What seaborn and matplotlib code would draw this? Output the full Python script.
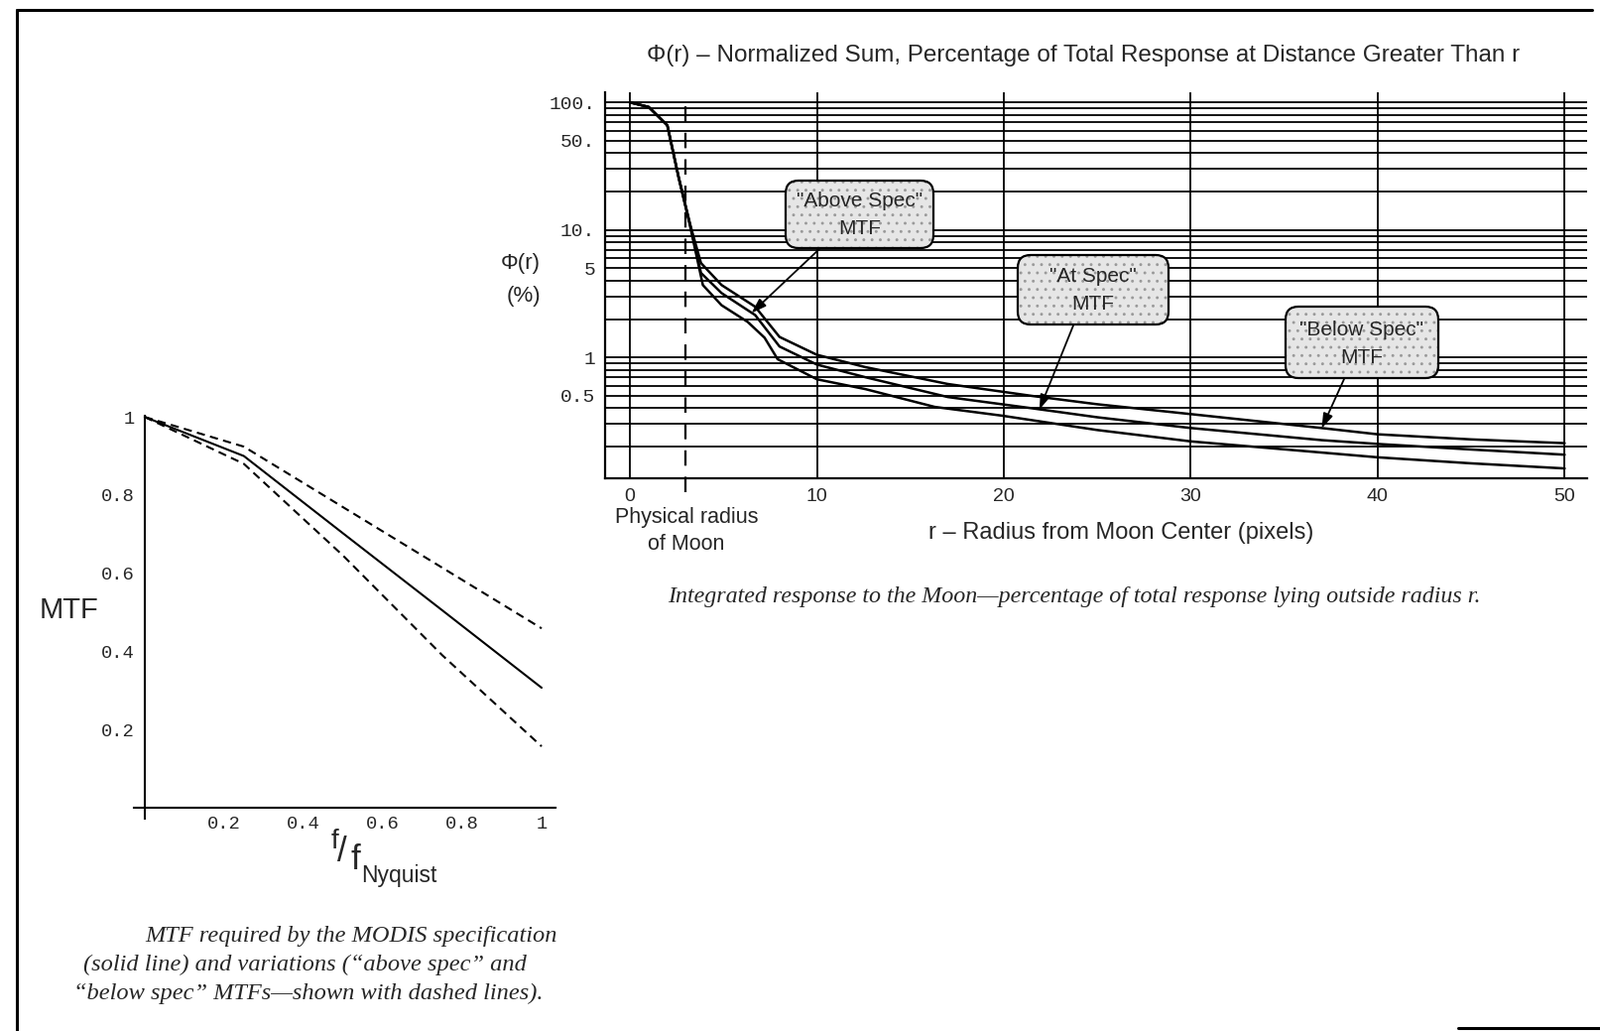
import numpy as np
import pandas as pd
import matplotlib
matplotlib.use("Agg")
import matplotlib.pyplot as plt
import seaborn as sns
from matplotlib.lines import Line2D
from matplotlib.patches import FancyBboxPatch
from matplotlib.transforms import IdentityTransform
from matplotlib.ticker import FixedLocator, LogLocator, NullFormatter

# ---------------- data: MTF chart (left) ----------------
mtf_freq = [0.0, 0.25, 0.5, 0.75, 1.0]
mtf_at_spec = [1.0, 0.90, 0.702, 0.505, 0.307]
mtf_above_spec = [1.0, 0.924, 0.769, 0.614, 0.459]
mtf_below_spec = [1.0, 0.88, 0.645, 0.39, 0.157]
mtf_ticks = [0.2, 0.4, 0.6, 0.8, 1.0]
mtf_ticklabels = ["0.2", "0.4", "0.6", "0.8", "1"]

# ---------------- data: Phi(r) chart (right) ----------------
r_below = [0, 1.0, 2.0, 2.6, 3.2, 3.8, 4.9, 6.7, 8.0, 10, 12.6, 17, 21.5, 25, 30, 37, 40, 45, 50]
phi_below = [100, 92, 66, 26, 11.3, 5.5, 3.7, 2.5, 1.45, 1.05, 0.84, 0.62, 0.50, 0.43, 0.36, 0.28, 0.25, 0.228, 0.213]
r_at = [0, 1.0, 2.0, 2.6, 3.2, 3.8, 4.9, 6.7, 8.0, 10, 12.6, 17, 21.5, 25, 30, 37, 40, 45, 50]
phi_at = [100, 92, 66, 26, 11.3, 4.6, 3.2, 2.15, 1.22, 0.88, 0.70, 0.49, 0.40, 0.34, 0.28, 0.225, 0.21, 0.19, 0.173]
r_above = [0, 1.0, 2.0, 2.6, 3.2, 3.9, 4.9, 6.3, 7.2, 7.9, 10, 12.6, 16.3, 19.9, 25, 30, 40, 45, 50]
phi_above = [100, 92, 66, 26, 11, 3.7, 2.57, 1.9, 1.43, 0.97, 0.675, 0.565, 0.41, 0.35, 0.27, 0.22, 0.165, 0.148, 0.135]
phi_yticks = [0.5, 1, 5, 10, 50, 100]
phi_yticklabels = ["0.5", "1", "5", "10.", "50.", "100."]
phi_xticks = [0, 10, 20, 30, 40, 50]
phi_xticklabels = ["0", "10", "20", "30", "40", "50"]
moon_radius = 2.95
# annotation labels and arrow targets (r, phi)
note_labels = ['"Above Spec"\nMTF', '"At Spec"\nMTF', '"Below Spec"\nMTF']
note_tips = [(6.5, 2.23), (21.9, 0.39), (37.0, 0.278)]

# ---------------- style ----------------
sns.set_style("white")
plt.rcParams["font.family"] = ["Liberation Sans", "DejaVu Sans"]
plt.rcParams["hatch.color"] = "#9a9a9a"
plt.rcParams["hatch.linewidth"] = 0.9

W, H = 1613, 1039
fig = plt.figure(figsize=(W / 100, H / 100), dpi=100)


def fx(X):
    return X / W


def fy(Y):
    return 1 - Y / H


MONO = ["Liberation Mono", "DejaVu Sans Mono"]
SANS = ["Liberation Sans", "DejaVu Sans"]
SERIF = ["Liberation Serif", "DejaVu Serif"]

# ---------------- right chart ----------------
axr = fig.add_axes([fx(610), fy(482), fx(1600) - fx(610), (482 - 93) / H])
phi_df = pd.concat([
    pd.DataFrame({"r": r_below, "phi": phi_below, "variant": "Below Spec"}),
    pd.DataFrame({"r": r_at, "phi": phi_at, "variant": "At Spec"}),
    pd.DataFrame({"r": r_above, "phi": phi_above, "variant": "Above Spec"}),
])
sns.lineplot(data=phi_df, x="r", y="phi", hue="variant",
             palette={"Below Spec": "black", "At Spec": "black", "Above Spec": "black"},
             estimator=None, sort=False, legend=False, lw=1.8, ax=axr, zorder=3)
axr.set_yscale("log")
axr.set_ylim(0.113, 120)
axr.set_xlim(-1.33, 51.2)
axr.yaxis.set_major_locator(FixedLocator(phi_yticks))
axr.set_yticklabels(phi_yticklabels, family=MONO, fontsize=14)
axr.yaxis.set_minor_locator(LogLocator(base=10, subs=np.arange(1, 10), numticks=20))
axr.yaxis.set_minor_formatter(NullFormatter())
axr.set_xticks(phi_xticks)
axr.set_xticklabels(phi_xticklabels, family=SANS, fontsize=14)
axr.tick_params(axis="y", which="both", length=0, pad=7)
axr.tick_params(axis="x", which="both", length=0, pad=7)
axr.grid(True, which="both", axis="y", color="black", lw=1.3)
axr.grid(True, which="major", axis="x", color="black", lw=1.3)
for s in ["top", "right"]:
    axr.spines[s].set_visible(False)
for s in ["left", "bottom"]:
    axr.spines[s].set_color("black")
    axr.spines[s].set_linewidth(1.6)
axr.axvline(moon_radius, ymin=-0.035, ymax=0.975, color="black", lw=1.6,
            dashes=(7, 5), clip_on=False, zorder=2)
axr.set_xlabel("")
axr.set_ylabel("")

# annotation boxes (pixel geometry: x0, y0(top), x1, y1(bottom)) and arrow starts
box_geom = [(792, 182, 941, 250), (1026, 257, 1178, 327), (1296, 309, 1450, 381)]
arrow_starts = [(826, 251), (1082, 328), (1355, 382)]
for label, tip, (x0, y0, x1, y1), (ax0, ay0) in zip(note_labels, note_tips, box_geom, arrow_starts):
    under = FancyBboxPatch((x0, H - y1), x1 - x0, y1 - y0,
                           boxstyle="round,pad=0,rounding_size=13",
                           transform=IdentityTransform(), fc="#e6e6e6", ec="#9a9a9a",
                           lw=0, hatch="..", zorder=4)
    fig.add_artist(under)
    frame = FancyBboxPatch((x0, H - y1), x1 - x0, y1 - y0,
                           boxstyle="round,pad=0,rounding_size=13",
                           transform=IdentityTransform(), fc="none", ec="black",
                           lw=1.6, zorder=5)
    fig.add_artist(frame)
    fig.text(fx((x0 + x1) / 2), fy((y0 + y1) / 2 + 1), label, ha="center", va="center",
             fontsize=15, family=SANS, linespacing=1.6, zorder=6)
    axr.annotate("", xy=tip, xycoords="data", xytext=(ax0, H - ay0),
                 textcoords="figure pixels",
                 arrowprops=dict(arrowstyle="-|>,head_length=0.9,head_width=0.3",
                                 color="black", lw=1.3, shrinkA=0, shrinkB=0),
                 zorder=5)

fig.text(fx(1092), fy(56), "\u03a6(r) \u2013 Normalized Sum, Percentage of Total Response at Distance Greater Than r",
         ha="center", va="center", fontsize=17.5, family=SANS)
fig.text(fx(525), fy(266), "\u03a6(r)", ha="center", va="center", fontsize=16, family=SANS)
fig.text(fx(528), fy(299), "(%)", ha="center", va="center", fontsize=16, family=SANS)
fig.text(fx(692), fy(521), "Physical radius", ha="center", va="center", fontsize=15.5, family=SANS)
fig.text(fx(692), fy(549), "of Moon", ha="center", va="center", fontsize=15.5, family=SANS)
fig.text(fx(1130), fy(537), "r \u2013 Radius from Moon Center (pixels)", ha="center", va="center",
         fontsize=17, family=SANS)
fig.text(fx(1083), fy(601),
         "Integrated response to the Moon\u2014percentage of total response lying outside radius r.",
         ha="center", va="center", fontsize=17.3, family=SERIF, style="italic")

# ---------------- left chart ----------------
axl = fig.add_axes([fx(135), fy(825), (560 - 135) / W, (825 - 419) / H])
mtf_df = pd.concat([
    pd.DataFrame({"f": mtf_freq, "mtf": mtf_above_spec, "variant": "above"}),
    pd.DataFrame({"f": mtf_freq, "mtf": mtf_at_spec, "variant": "at"}),
    pd.DataFrame({"f": mtf_freq, "mtf": mtf_below_spec, "variant": "below"}),
])
sns.lineplot(data=mtf_df, x="f", y="mtf", hue="variant", style="variant",
             palette={"above": "black", "at": "black", "below": "black"},
             dashes={"above": (4, 2.6), "at": "", "below": (4, 2.6)},
             estimator=None, sort=False, legend=False, lw=1.5, ax=axl)
axl.set_xlim(-0.027, 1.035)
axl.set_ylim(-0.028, 1.003)
axl.spines["left"].set_position(("data", 0))
axl.spines["bottom"].set_position(("data", 0))
for s in ["top", "right"]:
    axl.spines[s].set_visible(False)
for s in ["left", "bottom"]:
    axl.spines[s].set_color("black")
    axl.spines[s].set_linewidth(1.5)
axl.set_xticks(mtf_ticks)
axl.set_xticklabels(mtf_ticklabels, family=MONO, fontsize=13.5)
axl.set_yticks(mtf_ticks)
axl.set_yticklabels(mtf_ticklabels, family=MONO, fontsize=13.5)
axl.tick_params(axis="both", which="major", direction="in", length=5, width=1.0, color="black")
axl.tick_params(axis="y", pad=7)
axl.tick_params(axis="x", pad=6)
axl.set_xlabel("")
axl.set_ylabel("")

fig.text(fx(70), fy(615), "MTF", ha="center", va="center", fontsize=21, family=SANS)
fig.text(fx(338), fy(848), "f", ha="center", va="center", fontsize=20, family=SANS)
fig.text(fx(345), fy(858), "/", ha="center", va="center", fontsize=25, family=SANS)
fig.text(fx(358), fy(866), "f", ha="center", va="center", fontsize=25, family=SANS)
fig.text(fx(364), fy(883), "Nyquist", ha="left", va="center", fontsize=16.5, family=SANS)

cap_kw = dict(ha="left", va="center", fontsize=17.6, family=SERIF, style="italic")
fig.text(fx(146), fy(943), "MTF required by the MODIS specification", **cap_kw)
fig.text(fx(84), fy(972), "(solid line) and variations (\u201cabove spec\u201d and", **cap_kw)
fig.text(fx(74), fy(1001), "\u201cbelow spec\u201d MTFs\u2014shown with dashed lines).", **cap_kw)

# ---------------- page borders ----------------
fig.add_artist(Line2D([fx(17), fx(1605)], [fy(10), fy(10)], transform=fig.transFigure,
                      color="black", lw=2.2))
fig.add_artist(Line2D([fx(17), fx(17)], [fy(10), 0], transform=fig.transFigure,
                      color="black", lw=2.2))
fig.add_artist(Line2D([fx(1470), 1], [fy(1036), fy(1036)], transform=fig.transFigure,
                      color="black", lw=2.2))

fig.savefig("out.png", dpi=100)
